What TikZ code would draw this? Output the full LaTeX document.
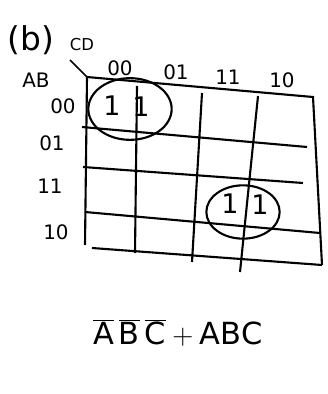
\documentclass[tikz,border=0pt]{standalone}
\usepackage{fontspec}
\setmainfont{DejaVu Sans}
\usetikzlibrary{calc,shapes.geometric}

\begin{document}
\begin{tikzpicture}[x=0.03cm,y=-0.03cm,line width=1.8pt,
  lbl/.style={inner sep=0pt,font=\fontsize{17}{19}\selectfont},
  one/.style={inner sep=0pt,font=\fontsize{23}{25}\selectfont},
  grp/.style={draw,ellipse,line width=1.8pt}]
\useasboundingbox (0,0) rectangle (327,394);
% corners of the map
\coordinate (tl) at (87,77);
\coordinate (tr) at (313,97);
\coordinate (br) at (322,265);
\coordinate (bl) at (88,248);
% headings
\node[inner sep=0pt,font=\fontsize{28}{30}\selectfont] (part) at (31,40) {(b)};
\node[lbl,font=\fontsize{14}{16}\selectfont] (cd) at (82,45) {CD};
\node[lbl] (ab) at (36,80) {AB};
\draw[line width=1.4pt] (70,60) -- (tl);
% outline and grid
\draw (tl) -- (tr) -- (br);
\draw (tl) -- (85,245);
\draw (92,248) -- (br);
\draw (82,127) -- (307,147);
\draw (83,167) -- (303,183);
\draw (85,212) -- (320,233);
\draw (137,86) -- (135,253);
\draw (202,93) -- (192,262);
\draw (258,96) -- (240,272);
% column labels
\node[lbl] (c00) at (120,68) {00};
\node[lbl] (c01) at (176,72) {01};
\node[lbl] (c11) at (228,77) {11};
\node[lbl] (c10) at (282,80) {10};
% row labels
\node[lbl] (r00) at (63,106) {00};
\node[lbl] (r01) at (52,143) {01};
\node[lbl] (r11) at (50,186) {11};
\node[lbl] (r10) at (56,232) {10};
% cells
\node[one] (m0) at (112,106) {1};
\node[one] (m1) at (141,107) {1};
\node[one] (m15) at (230,204) {1};
\node[one] (m14) at (260,205) {1};
% groups
\node[grp,minimum width=2.5cm,minimum height=1.85cm] (g1) at (130,109) {};
\node[grp,minimum width=2.2cm,minimum height=1.6cm] (g2) at (243,212) {};
% result
\node[inner sep=0pt,font=\fontsize{26}{30}\selectfont] (expr) at (178,333)
  {$\overline{\mathrm{A}}\,\overline{\mathrm{B}}\,\overline{\mathrm{C}}+\mathrm{ABC}$};
\end{tikzpicture}
\end{document}
